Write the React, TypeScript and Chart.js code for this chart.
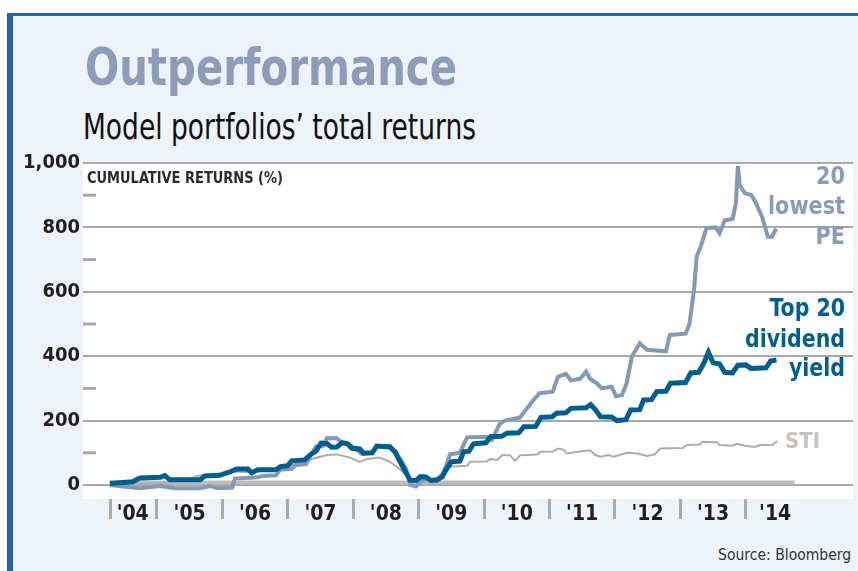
import React, { useEffect, useLayoutEffect, useRef } from 'react';
import { Chart, registerables } from 'chart.js';

Chart.register(...registerables);

// ---------- data ----------
const divDates = [2004.28, 2004.63, 2004.74, 2005.05, 2005.12, 2005.2, 2005.66, 2005.73, 2005.96, 2006.12, 2006.22, 2006.39, 2006.45, 2006.54, 2006.82, 2006.89, 2007.0, 2007.06, 2007.26, 2007.35, 2007.43, 2007.51, 2007.6, 2007.67, 2007.75, 2007.83, 2007.91, 2007.98, 2008.1, 2008.16, 2008.29, 2008.36, 2008.56, 2008.64, 2008.71, 2008.79, 2008.87, 2008.96, 2009.03, 2009.11, 2009.19, 2009.28, 2009.36, 2009.42, 2009.5, 2009.63, 2009.69, 2009.77, 2009.84, 2010.03, 2010.1, 2010.27, 2010.35, 2010.53, 2010.61, 2010.79, 2010.87, 2011.04, 2011.11, 2011.25, 2011.33, 2011.56, 2011.63, 2011.71, 2011.78, 2011.95, 2012.03, 2012.17, 2012.24, 2012.38, 2012.44, 2012.56, 2012.64, 2012.78, 2012.85, 2013.08, 2013.16, 2013.28, 2013.36, 2013.43, 2013.5, 2013.6, 2013.68, 2013.8, 2013.88, 2014.0, 2014.08, 2014.31, 2014.38, 2014.47];
const divValues = [5, 10, 22, 24, 29, 16, 16, 28, 30, 41, 50, 50, 38, 47, 47, 57, 60, 75, 78, 95, 105, 130, 128, 117, 118, 131, 128, 114, 112, 99, 100, 121, 118, 103, 75, 45, 15, 14, 26, 25, 14, 16, 25, 47, 72, 74, 103, 105, 128, 131, 150, 151, 161, 162, 181, 182, 210, 212, 223, 224, 238, 240, 250, 232, 212, 211, 200, 203, 233, 234, 264, 265, 290, 291, 316, 318, 348, 350, 378, 412, 380, 376, 350, 348, 372, 373, 362, 364, 385, 388];

const peDates = [2004.28, 2004.63, 2004.74, 2005.05, 2005.28, 2005.66, 2005.81, 2005.92, 2006.15, 2006.19, 2006.54, 2006.61, 2006.82, 2006.88, 2007.06, 2007.12, 2007.28, 2007.36, 2007.43, 2007.54, 2007.6, 2007.75, 2007.81, 2007.93, 2007.98, 2008.13, 2008.29, 2008.36, 2008.56, 2008.64, 2008.74, 2008.81, 2008.87, 2008.96, 2009.03, 2009.11, 2009.19, 2009.28, 2009.36, 2009.42, 2009.48, 2009.63, 2009.74, 2010.04, 2010.12, 2010.24, 2010.32, 2010.55, 2010.74, 2010.85, 2011.05, 2011.13, 2011.25, 2011.33, 2011.47, 2011.56, 2011.62, 2011.73, 2011.8, 2011.95, 2012.02, 2012.11, 2012.18, 2012.26, 2012.38, 2012.49, 2012.78, 2012.84, 2013.08, 2013.14, 2013.21, 2013.25, 2013.31, 2013.4, 2013.54, 2013.6, 2013.68, 2013.8, 2013.85, 2013.88, 2013.91, 2013.99, 2014.09, 2014.16, 2014.25, 2014.34, 2014.4, 2014.45, 2014.48];
const peValues = [0, -8, -10, -3, -10, -10, -3, -10, -8, 20, 24, 28, 30, 47, 50, 62, 65, 95, 119, 122, 146, 145, 135, 128, 120, 97, 100, 120, 122, 100, 75, 50, 0, -5, 10, 20, 12, 12, 30, 60, 95, 100, 148, 150, 140, 190, 200, 210, 260, 285, 290, 336, 345, 325, 330, 352, 330, 315, 300, 305, 275, 280, 316, 398, 440, 420, 415, 466, 470, 500, 605, 709, 739, 798, 800, 782, 822, 826, 874, 990, 930, 906, 900, 874, 833, 771, 771, 791, 788];

const stiDates = [2004.28, 2005.05, 2005.46, 2005.66, 2005.96, 2006.04, 2006.42, 2006.73, 2007.03, 2007.35, 2007.6, 2007.75, 2007.95, 2008.1, 2008.21, 2008.41, 2008.56, 2008.71, 2008.87, 2009.02, 2009.24, 2009.37, 2009.48, 2009.74, 2009.79, 2010.04, 2010.1, 2010.2, 2010.28, 2010.4, 2010.47, 2010.55, 2010.81, 2010.87, 2011.05, 2011.13, 2011.21, 2011.27, 2011.47, 2011.62, 2011.7, 2011.78, 2011.9, 2011.98, 2012.18, 2012.34, 2012.49, 2012.61, 2012.69, 2013.04, 2013.1, 2013.3, 2013.34, 2013.56, 2013.6, 2013.8, 2013.86, 2013.99, 2014.14, 2014.22, 2014.42, 2014.48];
const stiValues = [0, 5, 18, 30, 30, 42, 40, 45, 60, 80, 93, 95, 85, 72, 81, 85, 72, 50, 20, 10, 12, 40, 57, 60, 72, 73, 81, 78, 93, 92, 75, 92, 95, 103, 104, 113, 110, 98, 104, 108, 93, 88, 93, 88, 100, 98, 90, 95, 113, 115, 124, 126, 134, 133, 124, 122, 128, 122, 118, 124, 125, 137];

const baseDates = [2004.28, 2014.75];
const baseValues = [8, 8];

const yearLabels = ["'04", "'05", "'06", "'07", "'08", "'09", "'10", "'11", "'12", "'13", "'14"];
const yearLabelAt = [2004.63, 2005.5, 2006.5, 2007.5, 2008.5, 2009.5, 2010.5, 2011.5, 2012.5, 2013.5, 2014.45];
const yearTickAt = [2004.29, 2005, 2006, 2007, 2008, 2009, 2010, 2011, 2012, 2013, 2014];
const yTickValues = [0, 100, 200, 300, 400, 500, 600, 700, 800, 900, 1000];
const yLabelledStep = 200;

// ---------- style ----------
const FONT = '"Liberation Sans Narrow", "DejaVu Sans Condensed", "Liberation Sans", sans-serif';
const C_PE = '#8499b6';
const C_DIV = '#005e8e';
const C_STI = '#acacac';
const C_GRID = '#a9a9a9';

const toPts = (xs: number[], ys: number[]) => xs.map((x, i) => ({ x, y: ys[i] }));

function fitText(ctx: CanvasRenderingContext2D, lines: string[], font: string, color: string, targetWidth: number, refLine: string, x: number, baselines: number[], align: 'left' | 'right') {
  ctx.save();
  ctx.font = font;
  ctx.fillStyle = color;
  ctx.textBaseline = 'alphabetic';
  const w = ctx.measureText(refLine).width;
  const sx = w > 0 ? targetWidth / w : 1;
  lines.forEach((t, i) => {
    ctx.save();
    ctx.translate(x, baselines[i]);
    ctx.scale(sx, 1);
    ctx.textAlign = align;
    ctx.fillText(t, 0, 0);
    ctx.restore();
  });
  ctx.restore();
}

const panelPlugin = {
  id: 'panelPlugin',
  beforeDraw(chart: any) {
    const { ctx, chartArea: a } = chart;
    ctx.save();
    ctx.fillStyle = '#ffffff';
    ctx.fillRect(a.left, a.top, a.right - a.left, a.bottom - a.top);
    ctx.restore();
  },
  beforeDatasetsDraw(chart: any) {
    const { ctx, chartArea: a } = chart;
    const y = chart.scales.y;
    ctx.save();
    ctx.strokeStyle = C_GRID;
    ctx.lineWidth = 3;
    yTickValues.forEach((v) => {
      if (v % yLabelledStep !== 0) {
        const py = y.getPixelForValue(v);
        ctx.beginPath();
        ctx.moveTo(a.left, py);
        ctx.lineTo(a.left + 13, py);
        ctx.stroke();
      }
    });
    ctx.restore();
  },
  afterDraw(chart: any) {
    const { ctx, chartArea: a } = chart;
    const r = a.right - 8;
    fitText(ctx, ['CUMULATIVE RETURNS (%)'], `bold 15px ${FONT}`, '#2b2b2b', 196, 'CUMULATIVE RETURNS (%)', a.left + 4, [a.top + 20], 'left');
    fitText(ctx, ['20', 'lowest', 'PE'], `bold 25px ${FONT}`, '#8a9cb9', 77, 'lowest', r, [a.top + 21, a.top + 51, a.top + 81], 'right');
    fitText(ctx, ['Top 20', 'dividend', 'yield'], `bold 25px ${FONT}`, C_DIV, 100, 'dividend', r, [a.top + 153, a.top + 184, a.top + 213], 'right');
    fitText(ctx, ['STI'], `bold 22px ${FONT}`, '#c9c1bd', 35, 'STI', a.right - 68, [a.top + 285], 'left');
  },
};

function FitLabel(props: { text: string; left?: number; right?: number; top: number; width: number; size: number; weight: number; color: string }) {
  const ref = useRef<HTMLSpanElement>(null);
  useLayoutEffect(() => {
    const el = ref.current;
    if (!el) return;
    el.style.transform = 'none';
    const w = el.getBoundingClientRect().width;
    if (w > 0) el.style.transform = `scaleX(${props.width / w})`;
  }, [props.text, props.width]);
  const style: React.CSSProperties = {
    position: 'absolute',
    top: props.top,
    fontFamily: FONT,
    fontSize: props.size,
    fontWeight: props.weight,
    color: props.color,
    whiteSpace: 'nowrap',
    lineHeight: 1,
    transformOrigin: props.right !== undefined ? 'right top' : 'left top',
  };
  if (props.right !== undefined) style.right = props.right;
  else style.left = props.left;
  return <span ref={ref} style={style}>{props.text}</span>;
}

export default function App() {
  const canvasRef = useRef<HTMLCanvasElement>(null);

  useEffect(() => {
    const canvas = canvasRef.current;
    if (!canvas) return;
    const yFont = { family: FONT, size: 20, weight: 'bold' as const };
    const xFont = { family: FONT, size: 21, weight: 'bold' as const };
    const chart = new Chart(canvas, {
      type: 'line',
      data: {
        datasets: [
          { label: 'Top 20 dividend yield', data: toPts(divDates, divValues), borderColor: C_DIV, borderWidth: 5, pointRadius: 0, tension: 0, fill: false },
          { label: '20 lowest PE', data: toPts(peDates, peValues), borderColor: C_PE, borderWidth: 4, pointRadius: 0, tension: 0, fill: false },
          { label: 'STI', data: toPts(stiDates, stiValues), borderColor: C_STI, borderWidth: 2, pointRadius: 0, tension: 0, fill: false },
          { label: 'base', data: toPts(baseDates, baseValues), borderColor: '#bfbbb8', borderWidth: 4, pointRadius: 0, tension: 0, fill: false },
        ],
      },
      options: {
        animation: false,
        responsive: false,
        devicePixelRatio: 1,
        layout: { padding: { top: 163, right: 5, left: 0, bottom: 0 } },
        plugins: { legend: { display: false }, tooltip: { enabled: false }, title: { display: false } },
        scales: {
          x: {
            type: 'linear',
            min: 2003.87,
            max: 2015.64,
            afterBuildTicks: (scale: any) => {
              scale.ticks = [...yearTickAt, ...yearLabelAt].sort((p, q) => p - q).map((v) => ({ value: v }));
            },
            afterFit: (scale: any) => {
              scale.height = 72;
            },
            border: { display: false },
            grid: {
              drawOnChartArea: false,
              drawTicks: true,
              tickLength: 20,
              tickWidth: 3,
              color: (c: any) => (c.tick && yearTickAt.includes(c.tick.value) ? C_GRID : 'rgba(0,0,0,0)'),
              tickColor: (c: any) => (c.tick && yearTickAt.includes(c.tick.value) ? C_GRID : 'rgba(0,0,0,0)'),
            },
            ticks: {
              autoSkip: false,
              maxRotation: 0,
              minRotation: 0,
              padding: -17,
              color: '#231f20',
              font: xFont,
              callback: (v: any) => {
                const i = yearLabelAt.indexOf(Number(v));
                return i >= 0 ? yearLabels[i] : '';
              },
            },
          },
          y: {
            type: 'linear',
            min: -43.5,
            max: 1000,
            afterBuildTicks: (scale: any) => {
              scale.ticks = yTickValues.map((v) => ({ value: v }));
            },
            afterFit: (scale: any) => {
              scale.width = 83;
            },
            border: { display: false },
            grid: {
              drawTicks: false,
              lineWidth: 2,
              color: (c: any) => (c.tick && c.tick.value % yLabelledStep === 0 ? C_GRID : 'rgba(0,0,0,0)'),
            },
            ticks: {
              padding: 3,
              color: '#231f20',
              font: yFont,
              callback: (v: any) => (Number(v) % yLabelledStep === 0 ? Number(v).toLocaleString('en-US') : ''),
            },
          },
        },
      },
      plugins: [panelPlugin],
    });
    return () => chart.destroy();
  }, []);

  return (
    <div style={{ position: 'fixed', left: 0, top: 0, width: 858, height: 571, background: '#ffffff', overflow: 'hidden' }}>
      <div style={{ position: 'absolute', left: 7, top: 13, right: 0, bottom: 0, borderLeft: '6px solid #2a63a8', borderTop: '3px solid #2a63a8', background: '#eef2f9' }} />
      <FitLabel text="Outperformance" left={85} top={41} width={372} size={52} weight={700} color="#8d9cb8" />
      <FitLabel text="Model portfolios’ total returns" left={83} top={110} width={393} size={35} weight={400} color="#111111" />
      <FitLabel text="Source: Bloomberg" right={7} top={547} width={133} size={16} weight={400} color="#333333" />
      <canvas ref={canvasRef} width={858} height={571} style={{ position: 'absolute', left: 0, top: 0, width: 858, height: 571 }} />
    </div>
  );
}
